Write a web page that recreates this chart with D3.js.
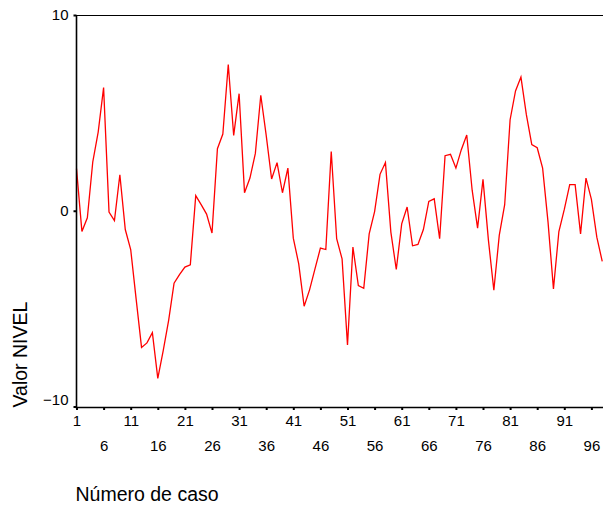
<!DOCTYPE html>
<html>
<head>
<meta charset="utf-8">
<script src="https://cdn.jsdelivr.net/npm/d3@7/dist/d3.min.js"></script>
<style>
  html, body { margin: 0; padding: 0; background: #fff; }
  svg { display: block; font-family: "Liberation Sans", Arial, sans-serif; }
</style>
</head>
<body>
<svg id="chart" width="603" height="506"></svg>
<script>
const caseNumbers = d3.range(1, 99);
const nivelValues = [
  2.15, -1.06, -0.36, 2.49, 4.02, 6.29, -0.07, -0.5, 1.84, -0.96,
  -1.98, -4.5, -6.98, -6.75, -6.23, -8.56, -7.15, -5.6, -3.7, -3.26,
  -2.88, -2.76, 0.77, 0.31, -0.17, -1.14, 3.17, 3.92, 7.47, 3.85,
  5.98, 0.92, 1.67, 2.93, 5.9, 3.85, 1.62, 2.46, 0.92, 2.18,
  -1.4, -2.71, -4.88, -4.04, -2.97, -1.91, -1.98, 3.03, -1.43, -2.46,
  -6.86, -1.86, -3.82, -3.96, -1.18, -0.04, 1.86, 2.46, -1.09, -3.0,
  -0.67, 0.19, -1.79, -1.72, -0.96, 0.48, 0.61, -1.43, 2.81, 2.88,
  2.18, 3.12, 3.87, 1.05, -0.89, 1.6, -1.5, -4.06, -1.26, 0.31,
  4.65, 6.12, 6.83, 4.91, 3.38, 3.22, 2.18, -0.58, -3.99, -1.06,
  0.07, 1.33, 1.33, -1.18, 1.67, 0.58, -1.35, -2.59
];
const xTickValues = d3.range(1, 100, 5);
const yTickValues = [-10, 0, 10];
const yTitle = "Valor NIVEL";
const xTitle = "Número de caso";

(function () {
const W = 603, H = 506;
const mLeft = 76.5, mTop = 15, mBottom = 406.5;
const svg = d3.select("#chart");

const x = d3.scaleLinear().domain([1, 100]).range([mLeft, mLeft + 99 * 5.42]);
const y = d3.scaleLinear().domain([-10, 10]).range([mBottom, mTop]);

// top frame line
svg.append("line")
  .attr("x1", mLeft).attr("x2", W).attr("y1", mTop + 0.5).attr("y2", mTop + 0.5)
  .attr("stroke", "#000").attr("stroke-width", 1);

// data line
const line = d3.line().x((d, i) => x(caseNumbers[i])).y(d => y(d));
svg.append("path")
  .datum(nivelValues)
  .attr("d", line)
  .attr("fill", "none")
  .attr("stroke", "#ff0000")
  .attr("stroke-width", 1.3)
  .attr("stroke-linejoin", "miter");

// Y axis
const yAxis = svg.append("g").attr("transform", `translate(${mLeft},0)`)
  .call(d3.axisLeft(y).tickValues(yTickValues).tickSize(3).tickPadding(5).tickFormat(d3.format("d")));
yAxis.select(".domain").attr("stroke-width", 1.6).attr("d", `M0,${mTop}V${mBottom + 1}`);
yAxis.selectAll(".tick line").attr("stroke-width", 2);
yAxis.selectAll(".tick text")
  .attr("font-size", 15).attr("fill", "#000")
  .attr("font-family", "Liberation Sans, Arial, sans-serif")
  .attr("dy", d => d === -10 ? "-0.12em" : "0.32em");

// X axis
const xAxis = svg.append("g").attr("transform", `translate(0,${mBottom + 1})`)
  .call(d3.axisBottom(x).tickValues(xTickValues).tickSize(2.5).tickPadding(4).tickFormat(d3.format("d")));
xAxis.select(".domain").attr("stroke-width", 1.6).attr("d", `M${mLeft - 1},0H${W}`);
xAxis.selectAll(".tick line").attr("stroke-width", 2);
xAxis.selectAll(".tick text")
  .attr("font-size", 15).attr("fill", "#000")
  .attr("font-family", "Liberation Sans, Arial, sans-serif")
  .attr("y", (d, i) => i % 2 === 0 ? 8 : 33)
  .attr("dy", "0.71em");

// titles
svg.append("text")
  .attr("transform", `translate(27,${mBottom + 1}) rotate(-90)`)
  .attr("text-anchor", "start")
  .attr("font-size", 19.5)
  .text(yTitle);

svg.append("text")
  .attr("x", mLeft - 1).attr("y", 501)
  .attr("font-size", 19.5)
  .text(xTitle);
})();
</script>
</body>
</html>
